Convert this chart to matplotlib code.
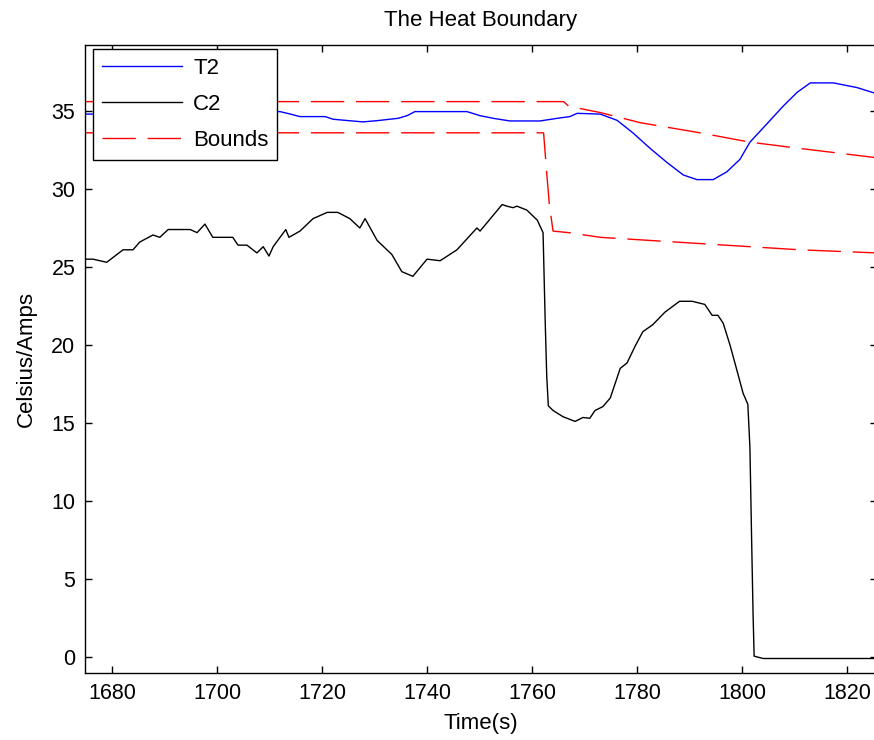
import matplotlib
matplotlib.use("Agg")
import matplotlib.pyplot as plt

plt.rcParams['font.family'] = ['Liberation Sans', 'DejaVu Sans']

# ------------------------
# data
# ------------------------
t2_time = [1674.9, 1680, 1690, 1700, 1708, 1712, 1714, 1715.8, 1720.6, 1722.1, 1727.8,
           1730.5, 1734.5, 1736.2, 1737.7, 1747.6, 1750.1, 1752.6, 1755.8, 1761.5,
           1764.8, 1767.2, 1768.6, 1773, 1776.2, 1779.2, 1782.5, 1785.7, 1788.8,
           1791.4, 1794.5, 1797.1, 1799.6, 1801.5, 1804.8, 1807.8, 1810.5, 1813,
           1817.4, 1821.9, 1825.7]
t2_vals = [34.8, 34.8, 34.9, 34.95, 34.95, 34.96, 34.8, 34.64, 34.64, 34.47, 34.3,
           34.38, 34.53, 34.7, 34.96, 34.96, 34.7, 34.53, 34.36, 34.36,
           34.53, 34.64, 34.85, 34.8, 34.4, 33.6, 32.6, 31.7, 30.9,
           30.6, 30.6, 31.1, 31.9, 33.0, 34.2, 35.3, 36.2, 36.8,
           36.8, 36.5, 36.1]

c2_time = [1674.9, 1676.4, 1679, 1682.1, 1684, 1685.3, 1687.8, 1689.1, 1690.7, 1694.9,
           1696.2, 1697.7, 1699.2, 1703, 1704, 1705.7, 1707.6, 1708.8, 1709.9, 1710.7,
           1713.1, 1713.7, 1715.8, 1718.3, 1721, 1723, 1725.3, 1727.2, 1728.2, 1730.5,
           1733.3, 1735.2, 1737.3, 1740, 1742.5, 1745.7, 1749.5, 1750.1, 1754.3, 1755.2,
           1756.4, 1757.1, 1759, 1761, 1762.1, 1762.5, 1762.8, 1763.1, 1764, 1765.9,
           1768.2, 1769.7, 1771, 1772, 1773.5, 1774.9, 1776.8, 1778.1, 1779.6, 1781.1,
           1783, 1785.3, 1788.1, 1790.5, 1792.9, 1794.3, 1795.4, 1796.4, 1797.7, 1799,
           1800.2, 1801.1, 1801.5, 1801.8, 1802.1, 1802.3, 1804, 1825.7]
c2_vals = [25.5, 25.5, 25.3, 26.1, 26.1, 26.6, 27.05, 26.9, 27.4, 27.4,
           27.2, 27.75, 26.9, 26.9, 26.4, 26.4, 25.9, 26.3, 25.7, 26.3,
           27.4, 26.9, 27.3, 28.1, 28.5, 28.5, 28.1, 27.5, 28.1, 26.7,
           25.8, 24.7, 24.4, 25.5, 25.4, 26.1, 27.5, 27.3, 29.0, 28.9,
           28.8, 28.9, 28.65, 28.0, 27.2, 21.6, 18.0, 16.1, 15.8, 15.4,
           15.1, 15.35, 15.3, 15.8, 16.05, 16.6, 18.5, 18.85, 19.9, 20.85,
           21.3, 22.1, 22.8, 22.8, 22.6, 21.9, 21.9, 21.4, 20.0, 18.4,
           16.9, 16.2, 13.4, 7.9, 2.7, 0.05, -0.1, -0.1]

upper_time = [1674.9, 1766, 1767, 1773, 1780.6, 1792, 1801.5, 1811, 1825.7]
upper_vals = [35.6, 35.6, 35.3, 34.9, 34.25, 33.6, 33.0, 32.6, 32.0]

lower_time = [1674.9, 1762.2, 1762.8, 1763.3, 1764, 1767, 1773, 1792, 1811, 1825.7]
lower_vals = [33.6, 33.6, 31.0, 29.0, 27.3, 27.2, 26.9, 26.5, 26.1, 25.9]

x_ticks = [1680, 1700, 1720, 1740, 1760, 1780, 1800, 1820]
y_ticks = [0, 5, 10, 15, 20, 25, 30, 35]

# ------------------------
# plot
# ------------------------
fig = plt.figure(figsize=(8.74, 7.4), dpi=100)
ax = fig.add_axes([85 / 874, 67 / 740, 792 / 874, 628 / 740])

dash = (24, 8.5)
ax.plot(t2_time, t2_vals, color="#0000ff", lw=1.0, label="T2")
ax.plot(c2_time, c2_vals, color="black", lw=1.0, label="C2")
ax.plot(upper_time, upper_vals, color="#ff0000", lw=1.0, dashes=dash, label="Bounds")
ax.plot(lower_time, lower_vals, color="#ff0000", lw=1.0, dashes=dash)

ax.set_xlim(1674.86, 1825.7)
ax.set_ylim(-1.03, 39.23)
ax.set_xticks(x_ticks)
ax.set_yticks(y_ticks)
ax.tick_params(direction="in", top=True, right=True, length=5, width=1.0,
               labelsize=15.5, pad=7)
for s in ax.spines.values():
    s.set_linewidth(1.0)

fs = 16
ax.set_title("The Heat Boundary", fontsize=fs, pad=14)
ax.set_xlabel("Time(s)", fontsize=fs, labelpad=7)
ax.set_ylabel("Celsius/Amps", fontsize=fs, labelpad=10)

leg = ax.legend(loc="upper left", bbox_to_anchor=(93 / 874, 1 - 49 / 740),
                bbox_transform=fig.transFigure, fontsize=fs, fancybox=False,
                framealpha=1, edgecolor="black", handlelength=3.6,
                labelspacing=0.68, borderpad=0.4, borderaxespad=0,
                handletextpad=0.5)
leg.get_frame().set_linewidth(1.0)

fig.savefig("out.png", dpi=100)
